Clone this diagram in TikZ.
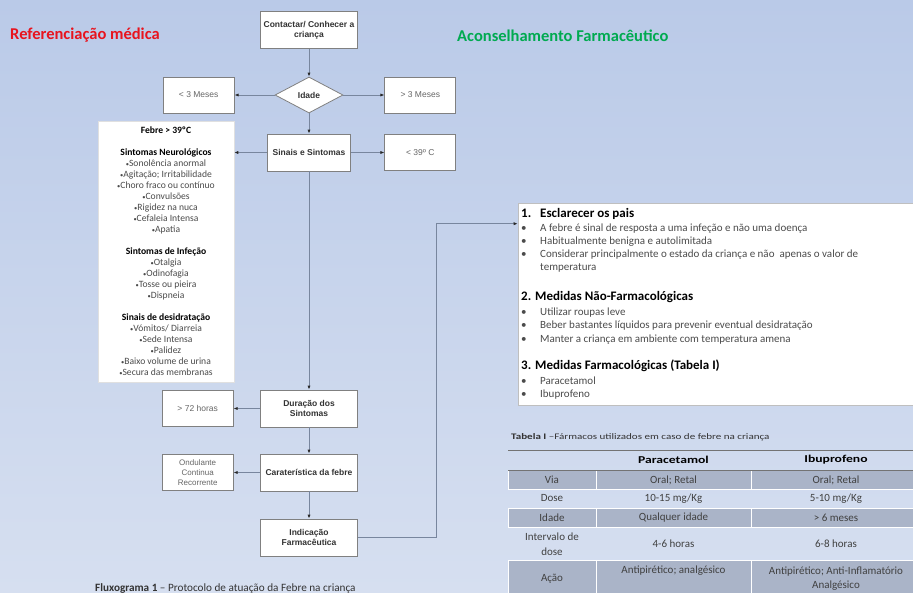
\documentclass[tikz,border=0pt]{standalone}
\usepackage{fontspec}
\setmainfont{Carlito}
\newfontfamily\arialfont{Liberation Sans}
\newfontfamily\widefont[FakeStretch=1.3]{Carlito}
\usetikzlibrary{arrows.meta,positioning,shapes.geometric,calc}
\definecolor{bgTop}{RGB}{186,202,232}
\definecolor{bgBottom}{RGB}{214,223,240}
\definecolor{refRed}{RGB}{232,20,30}
\definecolor{advGreen}{RGB}{0,170,80}
\definecolor{boxGrey}{RGB}{128,128,128}
\definecolor{lineGrey}{RGB}{120,134,158}
\definecolor{tipDark}{RGB}{40,40,40}
\definecolor{tabGrey}{RGB}{170,180,200}
\definecolor{bodyGrey}{RGB}{75,75,75}
\newcommand{\sbul}{{\fontsize{6.5}{6.5}\selectfont\raisebox{0.25ex}{•}}}
\newcommand{\symhead}[1]{{\bfseries\color{black}#1}}

\begin{document}
\begin{tikzpicture}[x=1pt,y=-1pt,
  flowbox/.style={draw=boxGrey, fill=white, line width=0.8pt,
    minimum width=97pt, minimum height=37pt, inner sep=2pt, align=center,
    text=black!80, font=\arialfont\bfseries\fontsize{8.5}{10}\selectfont},
  sidebox/.style={flowbox, minimum width=71pt, minimum height=36pt,
    text=black!60, font=\arialfont\fontsize{8.5}{10}\selectfont},
  decision/.style={diamond, draw=boxGrey, fill=white, line width=0.8pt,
    minimum width=68pt, minimum height=36pt, inner sep=0pt,
    text=black!80, font=\arialfont\bfseries\fontsize{8.5}{10}\selectfont},
  symptbox/.style={fill=white, draw=black!12, line width=0.5pt,
    minimum width=136pt, minimum height=261pt, inner sep=1pt, align=center,
    text=bodyGrey, font=\fontsize{9.6}{11}\selectfont},
  advbox/.style={fill=white, draw=black!25, line width=0.6pt,
    minimum width=412pt, minimum height=202pt},
  advhead/.style={inner sep=0pt, text=black, font=\bfseries\fontsize{13}{15}\selectfont},
  advlist/.style={inner sep=0pt, text=bodyGrey, font=\fontsize{11}{13.3}\selectfont},
  title/.style={inner sep=0pt, font=\bfseries\fontsize{16.5}{19}\selectfont},
  tabhead/.style={text=black, font=\widefont\bfseries\fontsize{10.5}{12}\selectfont},
  tabtext/.style={align=center, text=black!75, font=\fontsize{11}{14.5}\selectfont},
  tabcell/.style={fill=tabGrey, draw=white, line width=0.6pt},
  rule/.style={draw=black!55, line width=0.8pt},
  arrow/.style={-{Latex[length=4pt,width=3.2pt,color=tipDark]}, lineGrey, line width=0.8pt}
]
  \useasboundingbox (0,0) rectangle (913,592);
  \clip (0,0) rectangle (913,592);
  \shade[top color=bgTop, bottom color=bgBottom] (0,0) rectangle (913,592);

  % titles
  \node[title, text=refRed, anchor=base west] (reftitle) at (10,39) {Referenciação médica};
  \node[title, text=advGreen, anchor=base west] (advtitle) at (457,41) {Aconselhamento Farmacêutico};

  % flowchart
  \node[flowbox] (contact) at (309,30) {Contactar/ Conhecer a\\criança};
  \node[decision] (idade) at (309,95) {Idade};
  \node[sidebox, left=40pt of idade] (under3) {< 3 Meses};
  \node[sidebox, right=41pt of idade] (over3) {> 3 Meses};
  \node[flowbox, minimum width=83pt] (sinais) at (309,152.5) {Sinais e Sintomas};
  \node[sidebox, right=33.5pt of sinais] (under39) {< 39º C};
  \node[symptbox] (sympt) at (166,251.5) {%
    \symhead{Febre > 39ºC}\\[11pt]
    \symhead{Sintomas Neurológicos}\\
    \sbul Sonolência anormal\\
    \sbul Agitação; Irritabilidade\\
    \sbul Choro fraco ou contínuo\\
    \sbul Convulsões\\
    \sbul Rigidez na nuca\\
    \sbul Cefaleia Intensa\\
    \sbul Apatia\\[11pt]
    \symhead{Sintomas de Infeção}\\
    \sbul Otalgia\\
    \sbul Odinofagia\\
    \sbul Tosse ou pieira\\
    \sbul Dispneia\\[11pt]
    \symhead{Sinais de desidratação}\\
    \sbul Vómitos/ Diarreia\\
    \sbul Sede Intensa\\
    \sbul Palidez\\
    \sbul Baixo volume de urina\\
    \sbul Secura das membranas};
  \node[flowbox] (duracao) at (309,408.5) {Duração dos\\Sintomas};
  \node[sidebox, left=26.5pt of duracao] (over72) {> 72 horas};
  \node[flowbox] (carat) at (309,472.5) {Caraterística da febre};
  \node[sidebox, left=26.5pt of carat, font=\arialfont\fontsize{8}{10}\selectfont] (febtype)
    {Ondulante\\Continua\\Recorrente};
  \node[flowbox] (indic) at (309,537.5) {Indicação\\Farmacêutica};

  \draw[arrow] (contact) -- (idade);
  \draw[arrow] (idade) -- (under3);
  \draw[arrow] (idade) -- (over3);
  \draw[arrow] (idade) -- (sinais);
  \draw[arrow] (sinais.west) -- (sinais.west -| sympt.east);
  \draw[arrow] (sinais) -- (under39);
  \draw[arrow] (sinais) -- (duracao);
  \draw[arrow] (duracao) -- (over72);
  \draw[arrow] (duracao) -- (carat);
  \draw[arrow] (carat) -- (febtype);
  \draw[arrow] (carat) -- (indic);

  \node[anchor=base west, inner sep=0pt, text=black!80, font=\fontsize{11.2}{13}\selectfont] (flowcap)
    at (95,591) {\textbf{Fluxograma 1} – Protocolo de atuação da Febre na criança};

  % advice box
  \node[advbox] (advice) at (724,304) {};
  \draw[arrow] (indic.east) -- ++(78.5,0) |- ([yshift=-21pt]advice.north west);
  \node[advhead, anchor=base west] (head1) at (521,217.5) {\makebox[19pt][l]{1.}Esclarecer os pais};
  \node[advlist, anchor=base west] (list1) at (521,231) {%
    \begin{tabular}[t]{@{}p{19pt}@{}l@{}}
      • & A febre é sinal de resposta a uma infeção e não uma doença\\
      • & Habitualmente benigna e autolimitada\\
      • & Considerar principalmente o estado da criança e não\ \ apenas o valor de\\
        & temperatura
    \end{tabular}};
  \node[advhead, anchor=base west] (head2) at (521,300.5) {2. Medidas Não-Farmacológicas};
  \node[advlist, anchor=base west] (list2) at (521,315.5) {%
    \begin{tabular}[t]{@{}p{19pt}@{}l@{}}
      • & Utilizar roupas leve\\
      • & Beber bastantes líquidos para prevenir eventual desidratação\\
      • & Manter a criança em ambiente com temperatura amena
    \end{tabular}};
  \node[advhead, anchor=base west] (head3) at (521,369.5) {3. Medidas Farmacológicas (Tabela I)};
  \node[advlist, anchor=base west] (list3) at (521,384) {%
    \begin{tabular}[t]{@{}p{19pt}@{}l@{}}
      • & Paracetamol\\
      • & Ibuprofeno
    \end{tabular}};

  % table
  \node[anchor=base west, inner sep=0pt, text=black!80, font=\widefont\fontsize{8.5}{10}\selectfont] (tabcap)
    at (511,439) {\textbf{Tabela I} –Fármacos utilizados em caso de febre na criança};
  \foreach \ya/\yb in {470.5/489, 508/527, 560.5/600}
    \foreach \xa/\xb in {508/596, 596/751.5, 751.5/930}
      \filldraw[tabcell] (\xa,\ya) rectangle (\xb,\yb);
  \draw[rule] (508,450) -- (930,450);
  \draw[rule] (508,470.5) -- (930,470.5);
  \node[tabhead] (hpara) at (673.5,460) {Paracetamol};
  \node[tabhead] (hibu) at (836,460) {Ibuprofeno};
  \node[tabtext] (lvia) at (552,480) {Via};
  \node[tabtext] (pvia) at (673.5,480) {Oral; Retal};
  \node[tabtext] (ivia) at (836,480) {Oral; Retal};
  \node[tabtext] (ldose) at (552,498.5) {Dose};
  \node[tabtext] (pdose) at (673.5,498.5) {10-15 mg/Kg};
  \node[tabtext] (idose) at (836,498.5) {5-10 mg/Kg};
  \node[tabtext] (lidade) at (552,517.5) {Idade};
  \node[tabtext] (pidade) at (673.5,517.5) {Qualquer idade};
  \node[tabtext] (iidade) at (836,517.5) {> 6 meses};
  \node[tabtext] (linterv) at (552,544) {Intervalo de\\dose};
  \node[tabtext] (pinterv) at (673.5,544) {4-6 horas};
  \node[tabtext] (iinterv) at (836,544) {6-8 horas};
  \node[tabtext] (lacao) at (552,578.5) {Ação};
  \node[tabtext] (pacao) at (673.5,571) {Antipirético; analgésico};
  \node[tabtext] (iacao) at (836,578.5) {Antipirético; Anti-Inflamatório\\Analgésico};
\end{tikzpicture}
\end{document}
